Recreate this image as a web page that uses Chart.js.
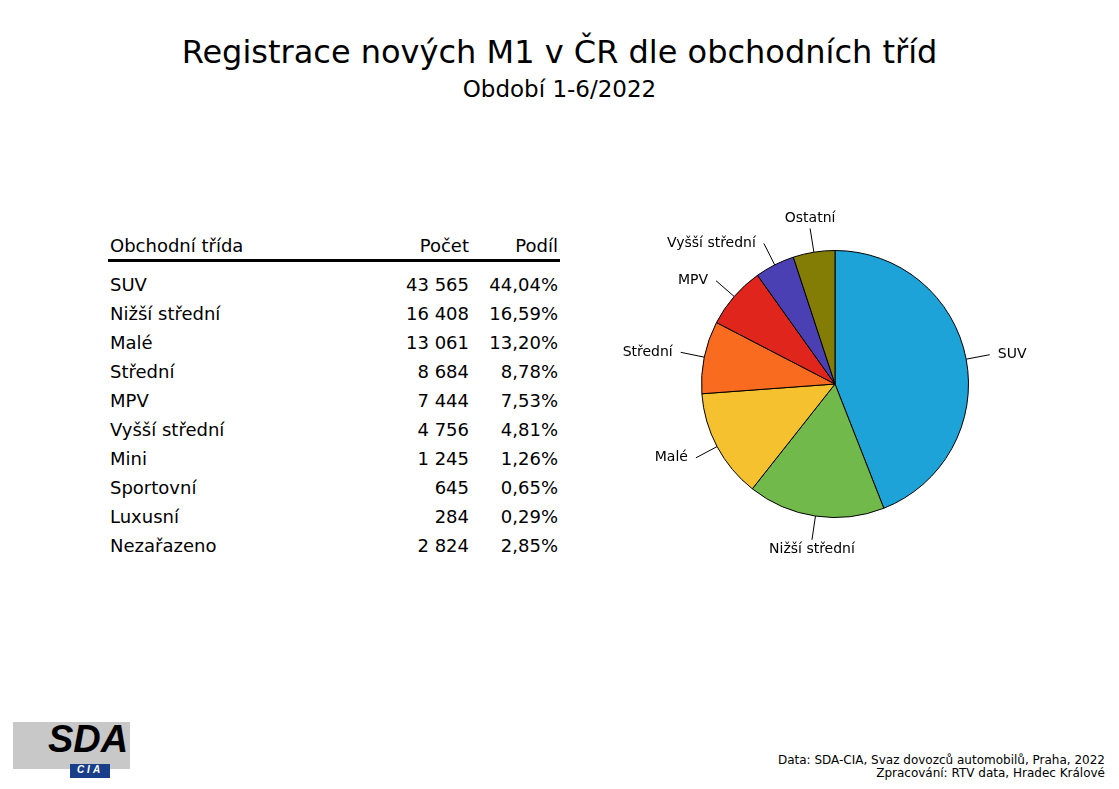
<!DOCTYPE html>
<html><head><meta charset="utf-8">
<script src="https://cdn.jsdelivr.net/npm/chart.js@4"></script>
<style>
body{margin:0;width:1119px;height:789px;background:#fff;font-family:"DejaVu Sans",sans-serif;position:relative;overflow:hidden}
.t1{position:absolute;top:33px;width:100%;text-align:center;font-size:32px;color:#000}
.t2{position:absolute;top:76px;width:100%;text-align:center;font-size:23px;color:#000}
table{position:absolute;left:108px;top:231px;border-collapse:collapse;font-size:18px;color:#000}
td,th{font-weight:normal;padding:0 2px;height:29px}
th{border-bottom:3px solid #000;height:28px}
.r{text-align:right}
#wrap{position:absolute;left:600px;top:184px;width:470px;height:400px}
.src{position:absolute;right:14px;top:754px;font-size:12px;text-align:right;line-height:13px}
.logo{position:absolute;left:13px;top:722px;width:117px;height:47px;background:#c8c8c8}
.sda{position:absolute;left:48px;top:718px;font:italic bold 38px "Liberation Sans",sans-serif;color:#000}
.cia{position:absolute;left:70px;top:764px;width:40px;height:14px;background:#1a3f8a;color:#fff;font:italic bold 10px sans-serif;text-align:center;letter-spacing:3px}
</style></head><body>
<div class="t1">Registrace nových M1 v ČR dle obchodních tříd</div>
<div class="t2">Období 1-6/2022</div>
<table id="tbl"></table>
<div id="wrap"><canvas id="pie"></canvas></div>
<div class="logo"></div><div class="sda">SDA</div><div class="cia">CIA</div>
<div class="src">Data: SDA-CIA, Svaz dovozců automobilů, Praha, 2022<br>Zpracování: RTV data, Hradec Králové</div>
<script>
const tableClasses = ['SUV','Nižší střední','Malé','Střední','MPV','Vyšší střední','Mini','Sportovní','Luxusní','Nezařazeno'];
const tableCounts = ['43 565','16 408','13 061','8 684','7 444','4 756','1 245','645','284','2 824'];
const tableShares = ['44,04%','16,59%','13,20%','8,78%','7,53%','4,81%','1,26%','0,65%','0,29%','2,85%'];

const pieLabels = ['SUV','Nižší střední','Malé','Střední','MPV','Vyšší střední','Ostatní'];
const pieValues = [43565,16408,13061,8684,7444,4756,4998];
const pieColors = ['#1ea3d8','#72b94c','#f5c12e','#f96b1f','#e0261c','#4b3fb4','#837c05'];

let html = '<tr><th style="text-align:left;width:250px">Obchodní třída</th><th class="r" style="width:105px">Počet</th><th class="r" style="width:85px">Podíl</th></tr>';
html += '<tr><td colspan=3 style="height:8px"></td></tr>';
tableClasses.forEach((c, i) => {
    html += `<tr><td>${c}</td><td class="r">${tableCounts[i]}</td><td class="r">${tableShares[i]}</td></tr>`;
});
document.getElementById('tbl').innerHTML = html;

// popisky mimo koláč s vodicí čarou
const outLabels = {
    id: 'outLabels',
    afterDraw(chart) {
        const ctx = chart.ctx;
        ctx.save();
        ctx.font = '14px "DejaVu Sans"';
        ctx.strokeStyle = '#000';
        ctx.fillStyle = '#000';
        ctx.lineWidth = 1;
        chart.getDatasetMeta(0).data.forEach((arc, i) => {
            const a = (arc.startAngle + arc.endAngle) / 2;
            const r = arc.outerRadius;
            const x1 = arc.x + Math.cos(a) * r, y1 = arc.y + Math.sin(a) * r;
            const x2 = arc.x + Math.cos(a) * (r + 24), y2 = arc.y + Math.sin(a) * (r + 24);
            ctx.beginPath(); ctx.moveTo(x1, y1); ctx.lineTo(x2, y2); ctx.stroke();
            const right = Math.cos(a) >= 0;
            const vert = Math.abs(Math.cos(a)) < 0.3;
            ctx.textAlign = vert ? 'center' : (right ? 'left' : 'right');
            ctx.textBaseline = 'middle';
            const tx = x2 + (vert ? 0 : (right ? 8 : -8));
            const ty = y2 + (vert ? (Math.sin(a) > 0 ? 10 : -10) : 0);
            ctx.fillText(pieLabels[i], tx, ty);
        });
        ctx.restore();
    }
};

new Chart(document.getElementById('pie'), {
    type: 'pie',
    data: {
        labels: pieLabels,
        datasets: [{
            data: pieValues,
            backgroundColor: pieColors,
            borderColor: '#000',
            borderWidth: 1
        }]
    },
    options: {
        responsive: true,
        maintainAspectRatio: false,
        animation: false,
        layout: { padding: 66 },
        plugins: { legend: { display: false }, tooltip: { enabled: false } }
    },
    plugins: [outLabels]
});
</script>
</body></html>
